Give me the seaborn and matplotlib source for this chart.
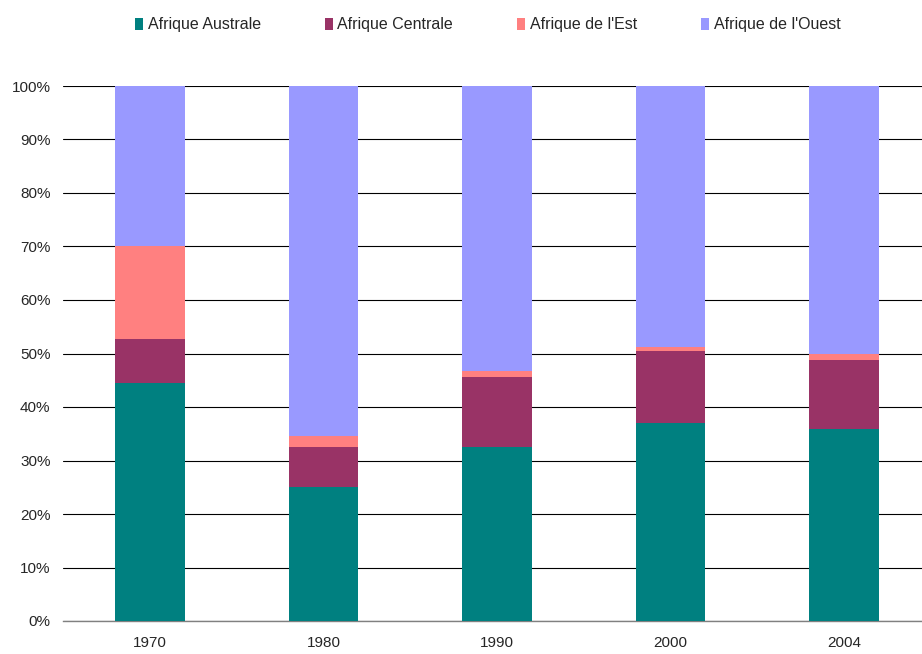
import matplotlib
matplotlib.use("Agg")
import matplotlib.pyplot as plt
from matplotlib.patches import Patch
from matplotlib.ticker import FixedLocator, PercentFormatter
import numpy as np
import pandas as pd
import seaborn as sns

years = ["1970", "1980", "1990", "2000", "2004"]
australe = [44.5, 25.0, 32.5, 37.0, 35.8]
centrale = [8.2, 7.5, 13.1, 13.5, 13.0]
est = [17.4, 2.1, 1.1, 0.7, 1.2]
ouest = [29.9, 65.4, 53.3, 48.8, 50.0]

series = ["Afrique Australe", "Afrique Centrale", "Afrique de l'Est", "Afrique de l'Ouest"]
colors = ["#008080", "#993366", "#FF8080", "#9999FF"]

sns.set_style("white")
plt.rcParams["font.family"] = ["Liberation Sans", "DejaVu Sans"]

df = pd.DataFrame({"year": years, series[0]: australe, series[1]: centrale,
                   series[2]: est, series[3]: ouest})
cum = df[series].cumsum(axis=1)
cum["year"] = years

fig = plt.figure(figsize=(9.22, 6.54), dpi=100)
ax = fig.add_axes([63 / 922, 1 - 621 / 654, (931 - 63) / 922, (621 - 86) / 654])

# stacked bars: draw cumulative totals from the top segment down
for name, col in reversed(list(zip(series, colors))):
    sns.barplot(data=cum, x="year", y=name, color=col, width=0.4,
                saturation=1, ax=ax, zorder=3, linewidth=0)

ax.set_ylim(0, 100)
ax.set_xlim(-0.5, 4.5)
ax.set_yticks(np.arange(0, 101, 10))
ax.yaxis.set_major_formatter(PercentFormatter(decimals=0))
ax.grid(axis="y", color="black", linewidth=0.8, zorder=0)
ax.set_xlabel("")
ax.set_ylabel("")

for s in ["top", "right", "left"]:
    ax.spines[s].set_visible(False)
ax.spines["bottom"].set_color("#808080")
ax.spines["bottom"].set_linewidth(1)

ax.tick_params(axis="y", length=0, labelsize=11, pad=9)
ax.tick_params(axis="x", which="major", length=0, labelsize=11, pad=11)
ax.xaxis.set_minor_locator(FixedLocator(np.arange(-0.5, 5, 1)))
ax.tick_params(axis="x", which="minor", length=6, color="#808080", width=1, direction="out")

handles = [Patch(facecolor=c, edgecolor="none") for c in colors]
fig.legend(handles, series, loc="center", bbox_to_anchor=(0.529, 1 - 25 / 654), ncol=4,
           frameon=False, fontsize=11.5, handlelength=0.5, handleheight=0.75,
           handletextpad=0.3, columnspacing=4.0)

fig.savefig("out.png", dpi=100)
